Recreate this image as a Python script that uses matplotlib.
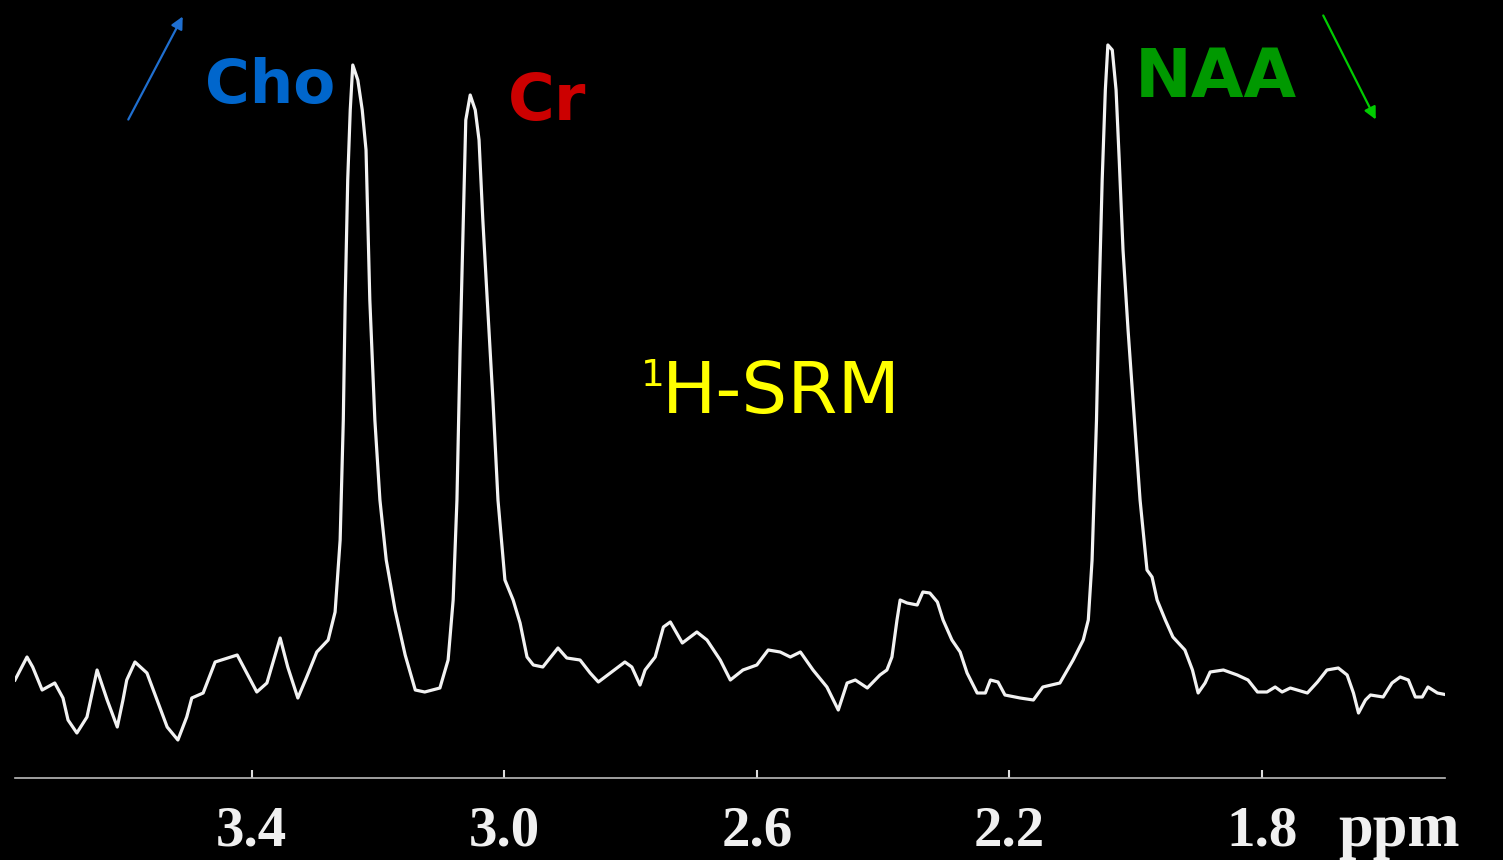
import matplotlib
matplotlib.use('Agg')
from matplotlib import pyplot as plt

# proton MR spectrum (ppm, arbitrary intensity)
ppm_left = [3.775, 3.756, 3.747, 3.732, 3.712, 3.699, 3.691, 3.677, 3.661, 3.645,
            3.629, 3.613, 3.604, 3.598, 3.585, 3.566, 3.550, 3.534, 3.517, 3.503,
            3.495, 3.477, 3.458, 3.423, 3.408, 3.392, 3.376, 3.355, 3.343, 3.327,
            3.313, 3.297, 3.279, 3.268]
int_left = [98, 121, 111, 88, 95, 80, 58, 45, 61, 108,
            78, 51, 78, 98, 116, 105, 78, 51, 38, 61,
            80, 85, 116, 123, 105, 86, 95, 140, 111, 80,
            101, 126, 138, 166]

ppm_cho = [3.260, 3.255, 3.252, 3.248, 3.244, 3.240, 3.232, 3.225, 3.219, 3.213,
           3.205, 3.197, 3.187, 3.173, 3.157, 3.141, 3.126, 3.102, 3.089]
int_cho = [238, 358, 478, 598, 668, 713, 698, 668, 628, 478,
           358, 278, 218, 168, 123, 88, 86, 90, 118]

ppm_cr = [3.081, 3.075, 3.070, 3.065, 3.061, 3.054, 3.046, 3.040, 3.034, 3.027,
          3.018, 3.010, 2.999, 2.986, 2.975, 2.964]
int_cr = [178, 278, 428, 558, 658, 683, 668, 638, 558, 478,
          378, 278, 198, 178, 155, 121]

ppm_mid = [2.954, 2.939, 2.915, 2.901, 2.880, 2.864, 2.851, 2.832, 2.809, 2.798,
           2.785, 2.777, 2.761, 2.748, 2.737, 2.718, 2.695, 2.679, 2.658, 2.642,
           2.622, 2.600, 2.582, 2.563, 2.547, 2.531, 2.511, 2.489, 2.471, 2.457,
           2.444, 2.425, 2.405, 2.394, 2.386, 2.378, 2.373, 2.362, 2.346, 2.337,
           2.326, 2.314, 2.305, 2.291, 2.278, 2.267, 2.251, 2.238, 2.230, 2.218,
           2.207, 2.183, 2.162, 2.147, 2.120, 2.099, 2.083, 2.075]
int_mid = [113, 111, 130, 120, 118, 105, 96, 105, 116, 111,
           93, 108, 121, 151, 156, 135, 146, 138, 118, 98,
           108, 113, 128, 126, 121, 126, 108, 91, 68, 95,
           98, 90, 103, 108, 121, 158, 178, 175, 173, 186,
           185, 176, 158, 138, 126, 105, 85, 85, 98, 96,
           83, 80, 78, 91, 95, 118, 138, 158]

ppm_naa = [2.069, 2.062, 2.058, 2.053, 2.048, 2.044, 2.037, 2.031, 2.026, 2.020,
           2.012, 2.002, 1.993, 1.982]
int_naa = [218, 358, 478, 598, 688, 733, 728, 688, 618, 528,
           448, 358, 278, 208]

ppm_right = [1.974, 1.966, 1.953, 1.941, 1.922, 1.910, 1.901, 1.890, 1.882, 1.861,
             1.839, 1.822, 1.807, 1.792, 1.779, 1.768, 1.755, 1.728, 1.712, 1.697,
             1.679, 1.665, 1.655, 1.647, 1.636, 1.628, 1.608, 1.594, 1.581, 1.568,
             1.557, 1.546, 1.537, 1.522, 1.506]
int_right = [201, 178, 158, 141, 128, 108, 85, 95, 106, 108,
             103, 98, 86, 86, 91, 86, 90, 85, 96, 108,
             110, 103, 85, 65, 78, 83, 81, 95, 101, 98,
             81, 81, 91, 85, 83]

ppm = ppm_left + ppm_cho + ppm_cr + ppm_mid + ppm_naa + ppm_right
intensity = int_left + int_cho + int_cr + int_mid + int_naa + int_right

tick_ppm = [3.4, 3.0, 2.6, 2.2, 1.8]
tick_labels = ['3.4', '3.0', '2.6', '2.2', '1.8']

W, H = 1503, 860
fig = plt.figure(figsize=(W / 100, H / 100), dpi=100, facecolor='black')
ax = fig.add_axes([15 / W, (H - 778) / H, 1430 / W, 748 / H])
ax.set_facecolor('black')

ax.plot(ppm, intensity, color='#f2f2f2', lw=2.3, solid_joinstyle='round')

ax.set_xlim(3.775, 1.510)
ax.set_ylim(0, 748)
ax.set_xticks(tick_ppm)
ax.set_xticklabels(tick_labels, fontfamily='Liberation Serif', fontweight='bold',
                   fontsize=41, color='#f0f0f0')
ax.tick_params(axis='x', direction='in', length=6, width=1.5, color='#dddddd', pad=20)
ax.set_yticks([])
for side in ['top', 'left', 'right']:
    ax.spines[side].set_visible(False)
ax.spines['bottom'].set_color('#bbbbbb')
ax.spines['bottom'].set_linewidth(1.2)

fig.text(1338 / W, 1 - 846 / H, 'ppm', fontfamily='Liberation Serif',
         fontweight='bold', fontsize=45, color='#f0f0f0', va='baseline')

# metabolite labels
fig.text(205 / W, 1 - 103 / H, 'Cho', color='#0066cc', fontsize=44,
         fontweight='bold', va='baseline')
fig.text(508 / W, 1 - 120 / H, 'Cr', color='#cc0000', fontsize=46,
         fontweight='bold', va='baseline')
fig.text(1135 / W, 1 - 97 / H, 'NAA', color='#009900', fontsize=49,
         fontweight='bold', va='baseline')
fig.text(641 / W, 1 - 358 / H, '1', color='#ffff00', fontsize=27, va='top')
fig.text(662 / W, 1 - 413 / H, 'H-SRM', color='#ffff00', fontsize=52, va='baseline')

# arrows: choline up, NAA down
ax.annotate('', xy=(184 / W, 1 - 14 / H), xytext=(127 / W, 1 - 122 / H),
            xycoords='figure fraction', textcoords='figure fraction',
            arrowprops=dict(arrowstyle='-|>', color='#1f6fd0', lw=1.6, mutation_scale=18))
ax.annotate('', xy=(1377 / W, 1 - 122 / H), xytext=(1322 / W, 1 - 13 / H),
            xycoords='figure fraction', textcoords='figure fraction',
            arrowprops=dict(arrowstyle='-|>', color='#00cc00', lw=1.6, mutation_scale=18))

fig.savefig('out.png', dpi=100, facecolor='black')
